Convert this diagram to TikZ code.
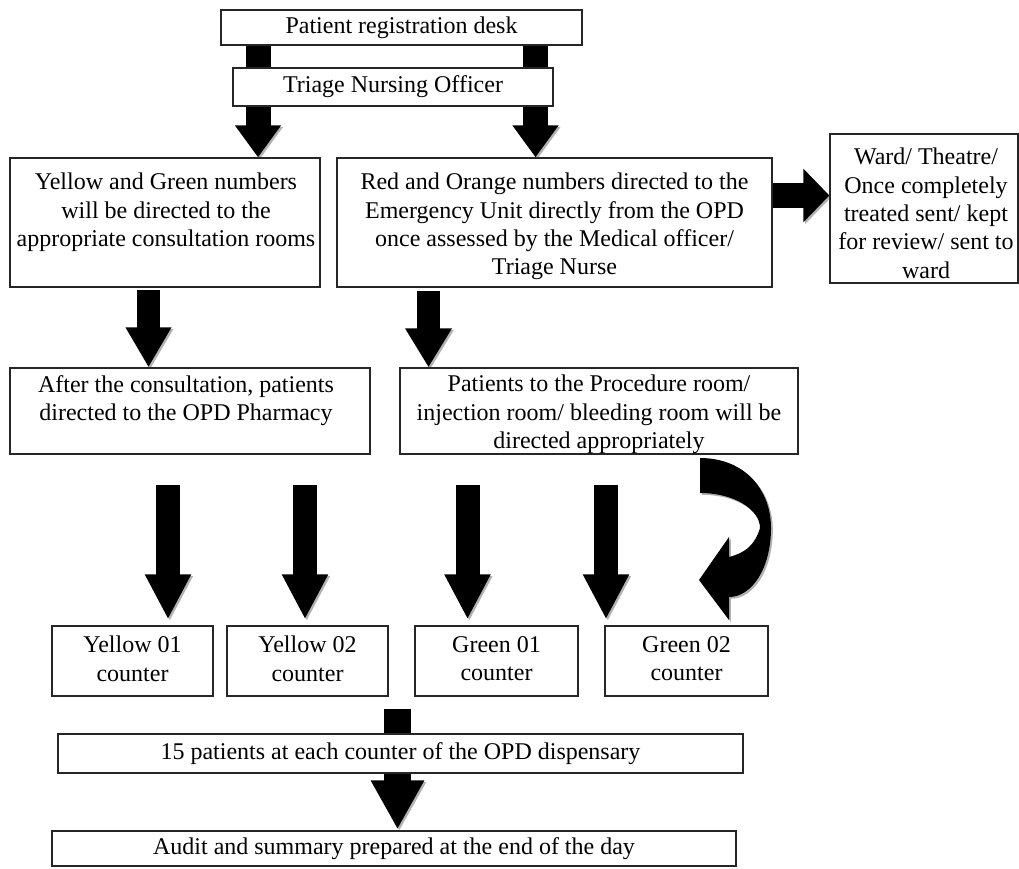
\documentclass[tikz,border=0pt]{standalone}
\usepackage{fontspec}
\setmainfont{Liberation Serif}
\usetikzlibrary{arrows.meta}
\pgfdeclarelayer{bg}
\pgfsetlayers{bg,main}
\tikzset{
  box/.style={draw=black!85, line width=1.3pt, fill=white, rectangle, inner sep=0pt},
  txt/.style={font=\fontsize{24}{28.3}\selectfont, align=center, inner sep=0pt, anchor=north},
  one/.style={font=\fontsize{24}{28.3}\selectfont},
  blk/.style args={#1/#2/#3}{line width=#1, line cap=butt, draw=black,
     -{Triangle[width=#2,length=#3]},
     preaction={draw=black!30, transform canvas={shift={(1.8pt,-1.8pt)}}}},
}
\begin{document}
\begin{tikzpicture}[x=1pt,y=-1pt]
\useasboundingbox (0,0) rectangle (1019,868);

% boxes
\node[box, one, minimum width=361pt, minimum height=35pt] (reg) at (401.5,27.5) {Patient registration desk};
\node[box, one, minimum width=320pt, minimum height=38pt] (tri) at (393,87) {Triage Nursing Officer};

\node[box, minimum width=310pt, minimum height=129pt] (yel) at (165,222.5) {};
\node[txt] (yelt) at (166,173) {Yellow and Green numbers\\will be directed to the\\appropriate consultation rooms};

\node[box, minimum width=435pt, minimum height=129pt] (red) at (554.5,222.5) {};
\node[txt] (redt) at (554.5,173) {Red and Orange numbers directed to the\\Emergency Unit directly from the OPD\\once assessed by the Medical officer/\\Triage Nurse};

\node[box, minimum width=188pt, minimum height=149pt] (ward) at (924,208.5) {};
\node[txt] (wardt) at (926,148) {Ward/ Theatre/\\Once completely\\treated sent/ kept\\for review/ sent to\\ward};

\node[box, minimum width=360pt, minimum height=86pt] (after) at (190,411) {};
\node[txt] (aftert) at (186,375) {After the consultation, patients\\directed to the OPD Pharmacy};

\node[box, minimum width=398pt, minimum height=86pt] (pat) at (599,411) {};
\node[txt] (patt) at (599,375) {Patients to the Procedure room/\\injection room/ bleeding room will be\\directed appropriately};

\node[box, minimum width=161pt, minimum height=70pt] (y01) at (132.5,661) {};
\node[txt] (y01t) at (132.5,636) {Yellow 01\\counter};
\node[box, minimum width=161pt, minimum height=70pt] (y02) at (307.5,661) {};
\node[txt] (y02t) at (307.5,636) {Yellow 02\\counter};
\node[box, minimum width=163pt, minimum height=70pt] (g01) at (496.5,661) {};
\node[txt] (g01t) at (496.5,636) {Green 01\\counter};
\node[box, minimum width=163pt, minimum height=70pt] (g02) at (686.5,661) {};
\node[txt] (g02t) at (686.5,636) {Green 02\\counter};

\node[box, one, minimum width=685pt, minimum height=39pt] (pts) at (400.5,753.5) {15 patients at each counter of the OPD dispensary};
\node[box, one, minimum width=684pt, minimum height=35pt] (aud) at (394,848.5) {Audit and summary prepared at the end of the day};

% block arrows
\begin{pgfonlayer}{bg}
\fill[white] (0,0) rectangle (1019,868);
\draw[blk=25pt/44pt/32pt] ([xshift=-143.5pt]reg.south) -- ([xshift=93pt]yel.north);
\draw[blk=25pt/44pt/32pt] ([xshift=134pt]reg.south) -- ([xshift=-19pt]red.north);
\draw[blk=23pt/43pt/40pt] ([xshift=-16.5pt,yshift=-2pt]yel.south) -- ([xshift=-41.5pt]after.north);
\draw[blk=23pt/44pt/39pt] ([xshift=-126pt,yshift=-3pt]red.south) -- ([xshift=-170.5pt]pat.north);
\draw[blk=25pt/52pt/26pt] ([yshift=27pt]red.east) -- ([yshift=13pt]ward.west);
\draw[blk=24pt/43pt/45pt] ([xshift=-22pt,yshift=-30pt]after.south) -- ([xshift=35.5pt,yshift=6pt]y01.north);
\draw[blk=24pt/43pt/45pt] ([xshift=115pt,yshift=-30pt]after.south) -- ([xshift=-2.5pt,yshift=6pt]y02.north);
\draw[blk=24pt/43pt/45pt] ([xshift=-131.5pt,yshift=-30pt]pat.south) -- ([xshift=-29pt,yshift=6pt]g01.north);
\draw[blk=24pt/43pt/45pt] ([xshift=7pt,yshift=-30pt]pat.south) -- ([xshift=-80.5pt,yshift=6pt]g02.north);
\draw[blk=27pt/50pt/49pt] ([xshift=90pt,yshift=-12pt]y02.south) -- ([xshift=3.5pt,yshift=1pt]aud.north);
% curved arrow
\fill[black!30, transform canvas={shift={(1.8pt,-1.8pt)}}]
  (700,458) .. controls (745,458) and (771,490) .. (771,528)
  .. controls (771,568) and (752,597) .. (729,597) -- (729,620) -- (699,580) -- (729,537) -- (729,557)
  .. controls (745,553) and (755,545) .. (760,528)
  .. controls (760,510) and (735,493) .. (700,493) -- cycle;
\fill[black]
  (700,458) .. controls (745,458) and (771,490) .. (771,528)
  .. controls (771,568) and (752,597) .. (729,597) -- (729,620) -- (699,580) -- (729,537) -- (729,557)
  .. controls (745,553) and (755,545) .. (760,528)
  .. controls (760,510) and (735,493) .. (700,493) -- cycle;
\end{pgfonlayer}
\end{tikzpicture}
\end{document}
